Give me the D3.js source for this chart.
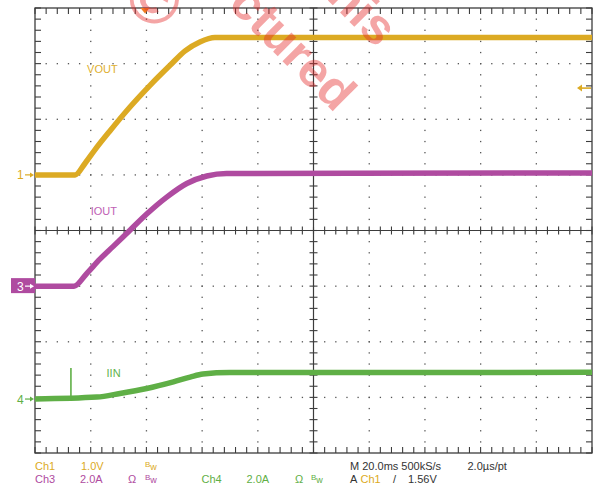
<!DOCTYPE html>
<html>
<head>
<meta charset="utf-8">
<script src="https://cdn.jsdelivr.net/npm/d3@7"></script>
<style>
  html, body { margin: 0; padding: 0; background: #fff; }
  svg { display: block; }
  text { font-family: "Liberation Sans", Arial, sans-serif; }
</style>
</head>
<body>
<div id="chart"></div>
<script>
// ---------------- DATA ----------------
// time axis: 20 ms/div, 10 divisions (ms)
const timeDomain = [0, 200];
// Ch1 VOUT (V, 1.0 V/div)
const voutTime = [0, 14.4, 18.0, 21.5, 26.9, 34.1, 41.3, 48.5, 53.9, 59.2, 64.6, 200];
const voutVals = [0, 0, 0.21, 0.45, 0.79, 1.22, 1.61, 1.97, 2.23, 2.39, 2.47, 2.47];
// Ch3 IOUT (A, 2.0 A/div)
const ioutTime = [0, 14.0, 18.7, 23.3, 28.0, 34.1, 40.1, 47.3, 54.5, 61.7, 68.8, 200];
const ioutVals = [0, 0, 0.47, 0.97, 1.42, 2.01, 2.59, 3.20, 3.69, 3.96, 4.05, 4.07];
// Ch4 IIN (A, 2.0 A/div)
const iinTime = [0, 22.2, 30.5, 40.1, 49.7, 55.7, 60.3, 70, 200];
const iinVals = [0, 0.07, 0.20, 0.38, 0.62, 0.79, 0.90, 0.95, 0.96];
const iinSpike = { time: 12.9, value: 1.12 };
// trigger
const triggerTime = 39.5;
const triggerLevel = 1.56;
// channel ground positions (divisions from top) and volts/amps per div
const channels = [
  { id: "1", name: "VOUT", color: "#dcaa23", textColor: "#e0b030", groundDiv: 3,    perDiv: 1.0, labelT: 18.7, labelV: 1.83 },
  { id: "3", name: "IOUT", color: "#af4ba0", textColor: "#c060b4", groundDiv: 5,    perDiv: 2.0, labelT: 20.0, labelV: 2.55 },
  { id: "4", name: "IIN",  color: "#5faf46", textColor: "#5fb44a", groundDiv: 7.03, perDiv: 2.0, labelT: 25.7, labelV: 0.79 }
];
// readout rows
const readoutRow1 = [
  { t: "Ch1", x: 35, c: "#dcaa23" }, { t: "1.0V", x: 81, c: "#dcaa23" }, { t: "Bw", x: 145, c: "#dcaa23", bw: true },
  { t: "M 20.0ms 500kS/s", x: 350, c: "#333" }, { t: "2.0\u00b5s/pt", x: 467.5, c: "#333" }
];
const readoutRow2 = [
  { t: "Ch3", x: 35, c: "#af4ba0" }, { t: "2.0A", x: 80, c: "#af4ba0" }, { t: "\u03a9", x: 128, c: "#af4ba0" },
  { t: "Bw", x: 145, c: "#af4ba0", bw: true },
  { t: "Ch4", x: 201.5, c: "#5faf46" }, { t: "2.0A", x: 246.5, c: "#5faf46" }, { t: "\u03a9", x: 295, c: "#5faf46" },
  { t: "Bw", x: 311, c: "#5faf46", bw: true },
  { t: "A", x: 350, c: "#333" }, { t: "Ch1", x: 360.5, c: "#dcaa23" }, { t: "/", x: 393, c: "#333" }, { t: "1.56V", x: 408, c: "#333" }
];

// ---------------- LAYOUT ----------------
const W = 595, H = 489;
const L = 35, R = 592, T = 8, B = 453;
const NX = 10, NY = 8;

const svg = d3.select("#chart").append("svg").attr("width", W).attr("height", H);

const xDiv = d3.scaleLinear().domain([0, NX]).range([L, R]);
const yDiv = d3.scaleLinear().domain([0, NY]).range([T, B]);
const x = d3.scaleLinear().domain(timeDomain).range([L, R]);

function yScale(ch) {
  return d3.scaleLinear()
    .domain([-(NY - ch.groundDiv) * ch.perDiv, ch.groundDiv * ch.perDiv])
    .range([B, T]);
}

// ---------------- GRID ----------------
const grid = svg.append("g");
const gridColor = "#3c3c3c";
const dotColor = "#555";
const sub = d3.range(0, NX * 5 + 1).map(k => k / 5);
const subY = d3.range(0, NY * 5 + 1).map(k => k / 5);

for (let i = 1; i < NX; i++) {
  if (i === NX / 2) continue;
  subY.forEach(v => {
    if (v === 0 || v === NY) return;
    grid.append("rect").attr("x", xDiv(i) - 0.6).attr("y", yDiv(v) - 0.6)
      .attr("width", 1.3).attr("height", 1.3).attr("fill", dotColor);
  });
}
for (let j = 1; j < NY; j++) {
  if (j === NY / 2) continue;
  sub.forEach(v => {
    if (v === 0 || v === NX) return;
    grid.append("rect").attr("x", xDiv(v) - 0.6).attr("y", yDiv(j) - 0.6)
      .attr("width", 1.3).attr("height", 1.3).attr("fill", dotColor);
  });
}
grid.append("rect").attr("x", L).attr("y", T).attr("width", R - L).attr("height", B - T)
  .attr("fill", "none").attr("stroke", gridColor).attr("stroke-width", 1.3);
sub.forEach(v => {
  const xx = xDiv(v);
  grid.append("line").attr("x1", xx).attr("x2", xx).attr("y1", T).attr("y2", T + 6)
    .attr("stroke", gridColor).attr("stroke-width", 1.1);
  grid.append("line").attr("x1", xx).attr("x2", xx).attr("y1", B).attr("y2", B - 6)
    .attr("stroke", gridColor).attr("stroke-width", 1.1);
});
subY.forEach(v => {
  const yy = yDiv(v);
  grid.append("line").attr("x1", L).attr("x2", L + 6).attr("y1", yy).attr("y2", yy)
    .attr("stroke", gridColor).attr("stroke-width", 1.1);
  grid.append("line").attr("x1", R).attr("x2", R - 6).attr("y1", yy).attr("y2", yy)
    .attr("stroke", gridColor).attr("stroke-width", 1.1);
});
const cx = xDiv(NX / 2), cy = yDiv(NY / 2);
grid.append("line").attr("x1", L).attr("x2", R).attr("y1", cy).attr("y2", cy)
  .attr("stroke", gridColor).attr("stroke-width", 1.2);
grid.append("line").attr("x1", cx).attr("x2", cx).attr("y1", T).attr("y2", B)
  .attr("stroke", gridColor).attr("stroke-width", 1.2);
sub.forEach(v => {
  const xx = xDiv(v);
  grid.append("line").attr("x1", xx).attr("x2", xx).attr("y1", cy - 4).attr("y2", cy + 4)
    .attr("stroke", gridColor).attr("stroke-width", 1.1);
});
subY.forEach(v => {
  const yy = yDiv(v);
  grid.append("line").attr("x1", cx - 4).attr("x2", cx + 4).attr("y1", yy).attr("y2", yy)
    .attr("stroke", gridColor).attr("stroke-width", 1.1);
});

// ---------------- TRACES ----------------
const traces = svg.append("g");
const series = [
  { ch: channels[1], t: ioutTime, v: ioutVals },
  { ch: channels[0], t: voutTime, v: voutVals },
  { ch: channels[2], t: iinTime, v: iinVals }
];
series.forEach(s => {
  const ys = yScale(s.ch);
  const pts = s.t.map((t, i) => [x(t), ys(s.v[i])]);
  traces.append("path")
    .attr("d", d3.line().curve(d3.curveMonotoneX)(pts))
    .attr("fill", "none").attr("stroke", s.ch.color)
    .attr("stroke-width", 5.5).attr("stroke-linejoin", "round");
});
{
  const ys = yScale(channels[2]);
  traces.append("line")
    .attr("x1", x(iinSpike.time)).attr("x2", x(iinSpike.time))
    .attr("y1", ys(0)).attr("y2", ys(iinSpike.value))
    .attr("stroke", channels[2].color).attr("stroke-width", 1.6);
}

// trace labels
channels.forEach(ch => {
  const ys = yScale(ch);
  svg.append("text").attr("x", x(ch.labelT)).attr("y", ys(ch.labelV))
    .attr("font-size", 11).attr("fill", ch.textColor).text(ch.name);
});

// ground markers
channels.forEach(ch => {
  const yy = yScale(ch)(0);
  const g = svg.append("g");
  let fg = ch.color;
  if (ch.id === "3") {
    g.append("rect").attr("x", 11).attr("y", yy - 8).attr("width", L - 11).attr("height", 15)
      .attr("fill", ch.color);
    fg = "#fff";
  }
  g.append("text").attr("x", 17).attr("y", yy + 4.5).attr("font-size", 12).attr("fill", fg).text(ch.id);
  g.append("line").attr("x1", 25).attr("x2", 31).attr("y1", yy).attr("y2", yy)
    .attr("stroke", fg).attr("stroke-width", 1.2);
  g.append("path").attr("d", `M${30},${yy - 2.5}L${34},${yy}L${30},${yy + 2.5}Z`).attr("fill", fg);
});

// trigger level arrow (right)
{
  const yy = yScale(channels[0])(triggerLevel);
  svg.append("line").attr("x1", 581).attr("x2", 591).attr("y1", yy).attr("y2", yy)
    .attr("stroke", channels[0].color).attr("stroke-width", 1.6);
  svg.append("path").attr("d", `M577,${yy}L582,${yy - 3.5}L582,${yy + 3.5}Z`).attr("fill", channels[0].color);
}
// trigger position marker (top)
{
  const xx = x(triggerTime);
  svg.append("path").attr("d", `M${xx - 4.5},${T}L${xx + 4.5},${T}L${xx},${T + 5.5}Z`).attr("fill", "#f07a20");
}

// ---------------- READOUT ----------------
function readout(row, yBase) {
  row.forEach(d => {
    const t = svg.append("text").attr("x", d.x).attr("y", yBase).attr("font-size", 11).attr("fill", d.c);
    if (d.bw) {
      t.append("tspan").attr("font-size", 8).attr("dy", -2.5).text("B");
      t.append("tspan").attr("font-size", 9).attr("dy", 3).text("w");
    } else {
      t.text(d.t);
    }
  });
}
readout(readoutRow1, 469.5);
readout(readoutRow2, 482.5);

// ---------------- WATERMARK ----------------
const wm = svg.append("g").attr("fill", "rgba(228,40,40,0.42)").attr("font-weight", "bold");
wm.append("text").attr("font-size", 50).attr("transform", "translate(227,5.6) rotate(45)").text("ctured");
wm.append("text").attr("font-size", 50).attr("transform", "translate(376.6,49) rotate(45)").attr("text-anchor", "end").text("this");
wm.append("text").attr("font-size", 70).attr("transform", "translate(137.3,15.7) rotate(45)").attr("text-anchor", "middle").text("\u00a9");
</script>
</body>
</html>
